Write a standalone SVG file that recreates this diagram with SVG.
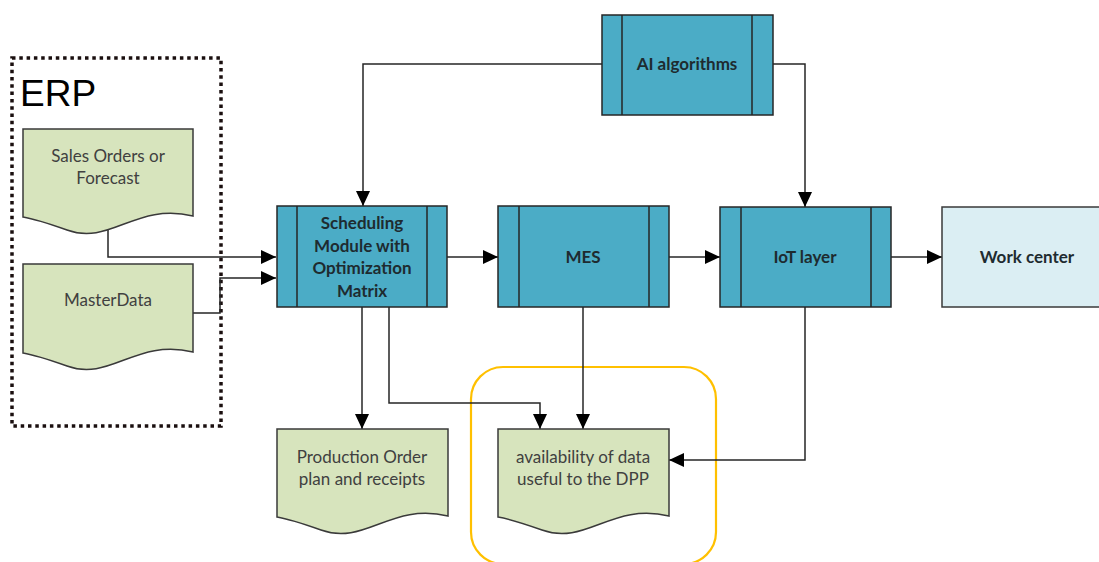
<svg xmlns="http://www.w3.org/2000/svg" width="1099" height="562" viewBox="0 0 1099 562">
<style>
.proc{fill:#4bacc6;stroke:#262626;stroke-width:1.5}
.bar{stroke:#262626;stroke-width:1.5;fill:none}
.doc{fill:#d7e4bd;stroke:#3a3a3a;stroke-width:1.5}
.wc{fill:#dbeef3;stroke:#3a3a3a;stroke-width:1.5}
.bt{font-family:Lato,"Liberation Sans",sans-serif;font-weight:bold;font-size:17px;fill:#1e2b30;text-anchor:middle}
.dt{font-family:Lato,"Liberation Sans",sans-serif;font-size:17px;fill:#404040;text-anchor:middle}
.conn{fill:none;stroke:#262626;stroke-width:1.5}
</style>
<defs>
<marker id="arr" markerUnits="userSpaceOnUse" markerWidth="16" markerHeight="14" refX="15" refY="7" orient="auto">
<path d="M0,0 L15,7 L0,14 z" fill="#000"/>
</marker>
</defs>
<rect x="0" y="0" width="1099" height="562" fill="#fff"/>

<g id="erp">
<rect x="12" y="58" width="209" height="368" fill="none" stroke="#1a0f0f" stroke-width="3.5" stroke-dasharray="3.5 3.8"/>
<text x="20" y="106" font-family="'Liberation Sans',Arial,sans-serif" font-size="37" fill="#000">ERP</text>
</g>

<g id="dpp-highlight">
<rect x="471" y="367" width="245" height="197" rx="32" fill="none" stroke="#ffc000" stroke-width="2.2"/>
</g>

<g id="connectors">
<path class="conn" d="M108,218 V257 H276" marker-end="url(#arr)"/>
<path class="conn" d="M193,313 H220 V278 H276" marker-end="url(#arr)"/>
<path class="conn" d="M602,64 H363 V206" marker-end="url(#arr)"/>
<path class="conn" d="M773,64 H805 V207" marker-end="url(#arr)"/>
<path class="conn" d="M447,257 H498" marker-end="url(#arr)"/>
<path class="conn" d="M669,257 H720" marker-end="url(#arr)"/>
<path class="conn" d="M891,257 H942" marker-end="url(#arr)"/>
<path class="conn" d="M362,307 V429" marker-end="url(#arr)"/>
<path class="conn" d="M389,307 V403 H540 V429" marker-end="url(#arr)"/>
<path class="conn" d="M583,307 V429" marker-end="url(#arr)"/>
<path class="conn" d="M805,307 V460 H669" marker-end="url(#arr)"/>
</g>

<g id="sales-orders">
<path class="doc" d="M23,129 H193 V216 C136,202 110,246 67,230 C50,224 35,219 23,217 Z"/>
<text class="dt" x="108" y="162">Sales Orders or</text>
<text class="dt" x="108" y="184">Forecast</text>
</g>

<g id="master-data">
<path class="doc" d="M23,264 H193 V352 C136,338 110,382 67,366 C50,360 35,355 23,353 Z"/>
<text class="dt" x="108" y="306">MasterData</text>
</g>

<g id="scheduling">
<rect class="proc" x="277" y="206" width="170" height="101"/>
<path class="bar" d="M297,206 V307 M427,206 V307"/>
<text class="bt" x="362" y="229">Scheduling</text>
<text class="bt" x="362" y="251.5">Module with</text>
<text class="bt" x="362" y="274">Optimization</text>
<text class="bt" x="362" y="296.5">Matrix</text>
</g>

<g id="mes">
<rect class="proc" x="498" y="206" width="171" height="101"/>
<path class="bar" d="M519,206 V307 M649,206 V307"/>
<text class="bt" x="583" y="263">MES</text>
</g>

<g id="ai">
<rect class="proc" x="602" y="15" width="171" height="100"/>
<path class="bar" d="M622,15 V115 M752,15 V115"/>
<text class="bt" x="687" y="70">AI algorithms</text>
</g>

<g id="iot">
<rect class="proc" x="720" y="207" width="171" height="100"/>
<path class="bar" d="M741,207 V307 M871,207 V307"/>
<text class="bt" x="805" y="263">IoT layer</text>
</g>

<g id="work-center">
<rect class="wc" x="942" y="207" width="170" height="100"/>
<text class="bt" x="1027" y="263">Work center</text>
</g>

<g id="production-order">
<path class="doc" d="M277,429 H448 V516 C391,502 365,546 321,530 C304,524 289,519 277,517 Z"/>
<text class="dt" x="362" y="463">Production Order</text>
<text class="dt" x="362" y="485">plan and receipts</text>
</g>

<g id="dpp">
<path class="doc" d="M498,429 H669 V516 C612,502 586,546 542,530 C525,524 510,519 498,517 Z"/>
<text class="dt" x="583" y="463">availability of data</text>
<text class="dt" x="583" y="485">useful to the DPP</text>
</g>
</svg>
